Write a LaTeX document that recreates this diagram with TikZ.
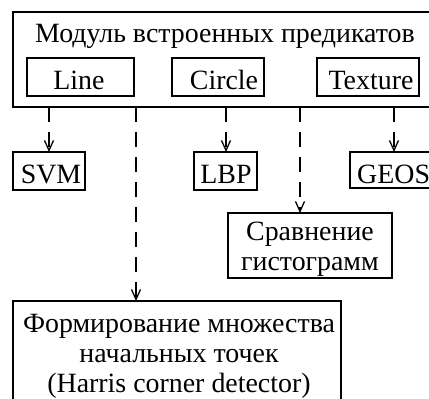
\documentclass[tikz,border=0pt]{standalone}
\usepackage{fontspec}
\setmainfont{Liberation Serif}
\usetikzlibrary{arrows.meta}
\begin{document}
\begin{tikzpicture}[x=1bp,y=-1bp,
  box/.style={draw,line width=2.6bp,inner sep=0pt},
  lbl/.style={font=\fontsize{28}{30}\selectfont,align=center,inner sep=0pt,anchor=base},
  conn/.style={line width=2.2bp,dash pattern=on 15bp off 10bp,-{Straight Barb[length=10bp,width=9bp,line width=1.3bp]}}]
\useasboundingbox (0,0) rectangle (429,399);
\clip (0,0) rectangle (429,399);
% outer module box
\draw[box] (13,12) rectangle (440,107);
\node[lbl] (title) at (225,42.5) {Модуль встроенных предикатов};
\draw[box] (27,58) rectangle (134,96);
\node[lbl] (line) at (79,89) {Line};
\draw[box] (172,58) rectangle (264,96);
\node[lbl] (circle) at (224,89) {Circle};
\draw[box] (317,58) rectangle (419,96);
\node[lbl] (texture) at (371,89) {Texture};
% lower boxes
\draw[box] (13,152) rectangle (85,190);
\node[lbl] (svm) at (51,183) {SVM};
\draw[box] (194,152) rectangle (257,190);
\node[lbl] (lbp) at (226,183) {LBP};
\draw[box] (350,152) rectangle (440,188);
\node[lbl,anchor=base west] (geos) at (357,183) {GEOS};
\draw[box] (228,213) rectangle (392,278);
\node[lbl] (cmp) at (310,270) {Сравнение\\гистограмм};
\draw[box] (13,301) rectangle (341,410);
\node[lbl] (harris) at (179,392) {Формирование множества\\начальных точек\\(Harris corner detector)};
% connectors
\coordinate (a1) at (49,107); \coordinate (b1) at (49,152);
\coordinate (a2) at (136,107); \coordinate (b2) at (136,301);
\coordinate (a3) at (226,107); \coordinate (b3) at (226,152);
\coordinate (a4) at (300,107); \coordinate (b4) at (300,213);
\coordinate (a5) at (394,107); \coordinate (b5) at (394,152);
\foreach \i in {1,...,5} \draw[conn] (a\i) -- (b\i);
\end{tikzpicture}
\end{document}
